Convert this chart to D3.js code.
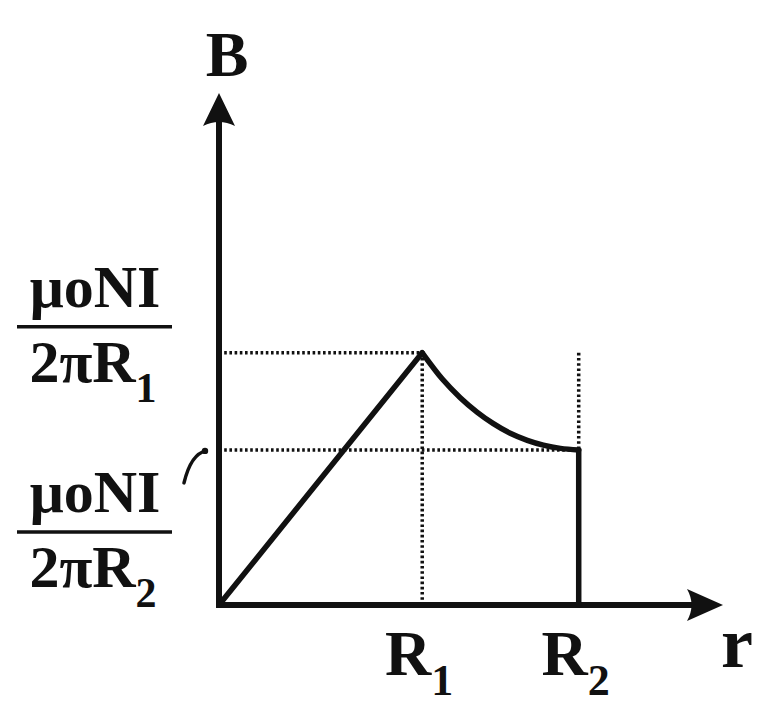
<!DOCTYPE html>
<html>
<head>
<meta charset="utf-8">
<script src="https://cdn.jsdelivr.net/npm/d3@7"></script>
<style>
  html, body { margin: 0; padding: 0; background: #ffffff; }
  svg text { font-family: "Liberation Serif", "DejaVu Serif", serif; font-weight: bold; fill: #111; }
</style>
</head>
<body>
<svg id="chart" width="760" height="718"></svg>
<script>
// ---- data (r in units of R1, B in units of mu0NI/(2piR1)) ----
const R1 = 1.0;
const R2 = 1.77;
const B1 = 1.0;
const B2 = 0.615;
const riseR = [0, 1.0];
const riseB = [0, 1.0];
const decayR = [1.0, 1.10, 1.187, 1.271, 1.35, 1.433, 1.517, 1.596, 1.68, 1.77];
const decayB = [1.0, 0.895, 0.822, 0.764, 0.719, 0.681, 0.653, 0.634, 0.621, 0.615];
const dropR = [1.77, 1.77];
const dropB = [0.615, 0];
const xTickLabels = [{ main: "R", sub: "1", value: R1 }, { main: "R", sub: "2", value: R2 }];
const yTickLabels = [
  { num: "μoNI", den: "2πR", sub: "1", value: B1 },
  { num: "μoNI", den: "2πR", sub: "2", value: B2 }
];
const xAxisTitle = "r";
const yAxisTitle = "B";
const rMax = 2.48;
const bMax = 2.03;

// ---- scales ----
const x = d3.scaleLinear().domain([0, rMax]).range([219, 723]);
const y = d3.scaleLinear().domain([0, bMax]).range([605, 93]);

const svg = d3.select("#chart");
const ink = "#111";

// dotted guides
const dotted = svg.append("g")
  .attr("stroke", ink).attr("stroke-width", 3.5)
  .attr("stroke-dasharray", "2.6,2.6").attr("fill", "none");
dotted.append("line").attr("x1", x(0)).attr("x2", x(R1)).attr("y1", y(B1)).attr("y2", y(B1));
dotted.append("line").attr("x1", x(R1)).attr("x2", x(R1)).attr("y1", y(B1)).attr("y2", y(0));
dotted.append("line").attr("x1", x(0)).attr("x2", x(R2)).attr("y1", y(B2)).attr("y2", y(B2));
dotted.append("line").attr("x1", x(R2)).attr("x2", x(R2)).attr("y1", y(B1)).attr("y2", y(B2));

// axes
const axisW = 6;
svg.append("line").attr("x1", x(0)).attr("y1", y(0) + axisW / 2 - 0.5)
  .attr("x2", x(0)).attr("y2", y(bMax) + 20)
  .attr("stroke", ink).attr("stroke-width", axisW);
svg.append("line").attr("x1", x(0) - axisW / 2).attr("y1", y(0))
  .attr("x2", x(rMax) - 20).attr("y2", y(0))
  .attr("stroke", ink).attr("stroke-width", axisW);

// arrow heads
const ah = 33, hw = 16;
const yt = [x(0), y(bMax)];
svg.append("path").attr("fill", ink)
  .attr("d", `M${yt[0]},${yt[1]} L${yt[0] + hw},${yt[1] + ah} Q${yt[0]},${yt[1] + ah - 8} ${yt[0] - hw},${yt[1] + ah} Z`);
const xt = [x(rMax), y(0)];
svg.append("path").attr("fill", ink)
  .attr("d", `M${xt[0]},${xt[1]} L${xt[0] - ah - 3},${xt[1] - hw} Q${xt[0] - ah + 6},${xt[1]} ${xt[0] - ah - 3},${xt[1] + hw} Z`);

// the B(r) curve
const lineGen = d3.line().x(d => x(d[0])).y(d => y(d[1]));
const curveGen = d3.line().x(d => x(d[0])).y(d => y(d[1])).curve(d3.curveMonotoneX);
const curveG = svg.append("g").attr("fill", "none").attr("stroke", ink)
  .attr("stroke-width", 5.5).attr("stroke-linejoin", "round").attr("stroke-linecap", "round");
curveG.append("path").attr("d", lineGen(riseR.map((r, i) => [r, riseB[i]])));
curveG.append("path").attr("d", curveGen(decayR.map((r, i) => [r, decayB[i]])));
curveG.append("path").attr("d", lineGen(dropR.map((r, i) => [r, dropB[i]])));

// axis titles
svg.append("text").attr("x", x(0) + 8).attr("y", 76)
  .attr("text-anchor", "middle").attr("font-size", 64).text(yAxisTitle);
svg.append("text").attr("x", x(rMax) + 14).attr("y", 667)
  .attr("text-anchor", "middle").attr("font-size", 72).text(xAxisTitle);

// x tick labels
xTickLabels.forEach(t => {
  const tx = svg.append("text").attr("x", x(t.value) - 3).attr("y", 675)
    .attr("text-anchor", "middle").attr("font-size", 64);
  tx.append("tspan").text(t.main);
  tx.append("tspan").attr("dy", 20).attr("font-size", 44).text(t.sub);
});

// y tick labels (fractions)
const fracX = 95;
yTickLabels.forEach((t, i) => {
  const lineY = i === 0 ? y(t.value) - 26 : y(t.value) + 82;
  svg.append("text").attr("x", fracX).attr("y", lineY - 20)
    .attr("text-anchor", "middle").attr("font-size", 60).text(t.num);
  svg.append("line").attr("x1", 17).attr("x2", 172).attr("y1", lineY).attr("y2", lineY)
    .attr("stroke", ink).attr("stroke-width", 3.5);
  const den = svg.append("text").attr("x", fracX - 2).attr("y", lineY + 55)
    .attr("text-anchor", "middle").attr("font-size", 60);
  den.append("tspan").text(t.den);
  den.append("tspan").attr("dy", 20).attr("font-size", 42).text(t.sub);
});

// little pointer from lower label to its level
const py = y(B2);
svg.append("path").attr("fill", "none").attr("stroke", ink).attr("stroke-width", 3.5)
  .attr("stroke-linecap", "round")
  .attr("d", `M${x(0) - 35},${py + 33} Q${x(0) - 28},${py + 4} ${x(0) - 13},${py + 1}`);
svg.append("circle").attr("cx", x(0) - 14).attr("cy", py + 1).attr("r", 3.2).attr("fill", ink);
</script>
</body>
</html>
